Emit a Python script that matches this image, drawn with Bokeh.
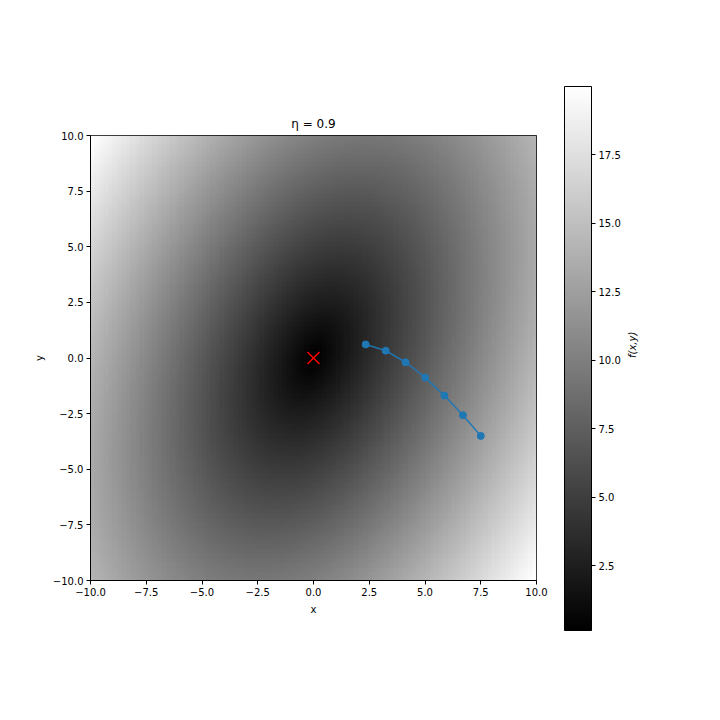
import math
import numpy as np
from bokeh.plotting import figure
from bokeh.models import LinearColorMapper, FixedTicker, Range1d, ColorBar, LinearAxis
from bokeh.embed import file_html
from bokeh.resources import INLINE

# ---------------- data ----------------
title_text = "η = 0.9"
x_grid = np.linspace(-10, 10, 100)
y_grid = np.linspace(-10, 10, 100)
# f(u, v) = sqrt(a*u^2 + b*u*v + c*v^2)
coef_a, coef_b, coef_c = 1.0, -1.0, 2.0

path_x = [7.5, 6.70, 5.87, 5.01, 4.13, 3.24, 2.34]
path_y = [-3.5, -2.57, -1.69, -0.88, -0.19, 0.33, 0.61]
min_x = [0.0]
min_y = [0.0]

axis_ticks = [-10, -7.5, -5, -2.5, 0, 2.5, 5, 7.5, 10]
axis_tick_labels = ["−10.0", "−7.5", "−5.0", "−2.5", "0.0", "2.5", "5.0", "7.5", "10.0"]
cbar_ticks = [2.5, 5, 7.5, 10, 12.5, 15, 17.5]
cbar_tick_labels = ["2.5", "5.0", "7.5", "10.0", "12.5", "15.0", "17.5"]


def f(u, v):
    return np.sqrt(coef_a * u ** 2 + coef_b * u * v + coef_c * v ** 2)


X, Y = np.meshgrid(x_grid, y_grid)
Z = f(Y, X)  # field as displayed (transposed evaluation)
vmin, vmax = float(Z.min()), float(Z.max())

grays = ["#%02x%02x%02x" % (i, i, i) for i in range(256)]
mapper = LinearColorMapper(palette=grays, low=vmin, high=vmax)

FONT = "DejaVu Sans"


def style_axis(ax, ticks, labels):
    ax.ticker = FixedTicker(ticks=ticks)
    ax.major_label_overrides = {float(t): l for t, l in zip(ticks, labels)}
    ax.major_label_text_font = FONT
    ax.major_label_text_font_size = "10px"
    ax.major_label_text_color = "black"
    ax.major_tick_out = 4
    ax.major_tick_in = 0
    ax.minor_tick_out = 0
    ax.minor_tick_in = 0
    ax.major_tick_line_color = "black"
    ax.axis_line_color = "black"
    ax.major_label_standoff = 3
    ax.axis_label_text_font = FONT
    ax.axis_label_text_font_size = "10px"
    ax.axis_label_text_font_style = "normal"
    ax.axis_label_text_color = "black"


p = figure(width=680, height=712,
           x_range=Range1d(-10, 10), y_range=Range1d(-10, 10),
           output_backend="svg", toolbar_location=None,
           min_border_left=90, min_border_right=144,
           min_border_top=135, min_border_bottom=132,
           title=title_text)
p.grid.visible = False
p.outline_line_color = "black"
p.outline_line_width = 1
p.background_fill_color = "white"
p.border_fill_color = "white"
p.title.align = "center"
p.title.text_font = FONT
p.title.text_font_size = "12px"
p.title.text_font_style = "normal"
p.title.text_color = "black"

p.image(image=[Z], x=-10, y=-10, dw=20, dh=20, color_mapper=mapper)
p.line(path_x, path_y, line_color="#1f77b4", line_width=1.5)
p.scatter(path_x, path_y, size=7, fill_color="#1f77b4", line_color="#1f77b4")
p.scatter(min_x, min_y, marker="x", size=17, line_color="#ff0000", line_width=1.5)

style_axis(p.xaxis[0], axis_ticks, axis_tick_labels)
style_axis(p.yaxis[0], axis_ticks, axis_tick_labels)
p.xaxis[0].axis_label = "x"
p.yaxis[0].axis_label = "y"

cbar = ColorBar(color_mapper=mapper, width=27, height=544, location=(28, -50),
                margin=0, padding=0,
                ticker=FixedTicker(ticks=cbar_ticks),
                major_label_overrides={float(t): l for t, l in zip(cbar_ticks, cbar_tick_labels)},
                major_label_text_font=FONT, major_label_text_font_size="10px",
                major_label_text_color="black",
                major_tick_out=4, major_tick_in=0,
                major_tick_line_color="black",
                minor_tick_line_color=None,
                label_standoff=3,
                bar_line_color="black", bar_line_width=1,
                border_line_color=None, background_fill_color=None)
p.add_layout(cbar, "right")

lab_axis = LinearAxis(ticker=FixedTicker(ticks=[]), axis_line_color=None,
                      major_tick_line_color=None, minor_tick_line_color=None,
                      axis_label="f(x,y)", axis_label_text_font=FONT,
                      axis_label_text_font_size="10px",
                      axis_label_text_font_style="italic",
                      axis_label_text_color="black",
                      axis_label_standoff=9,
                      axis_label_orientation=math.pi / 2)
p.add_layout(lab_axis, "right")

open("out.html", "w").write(file_html(p, INLINE))
